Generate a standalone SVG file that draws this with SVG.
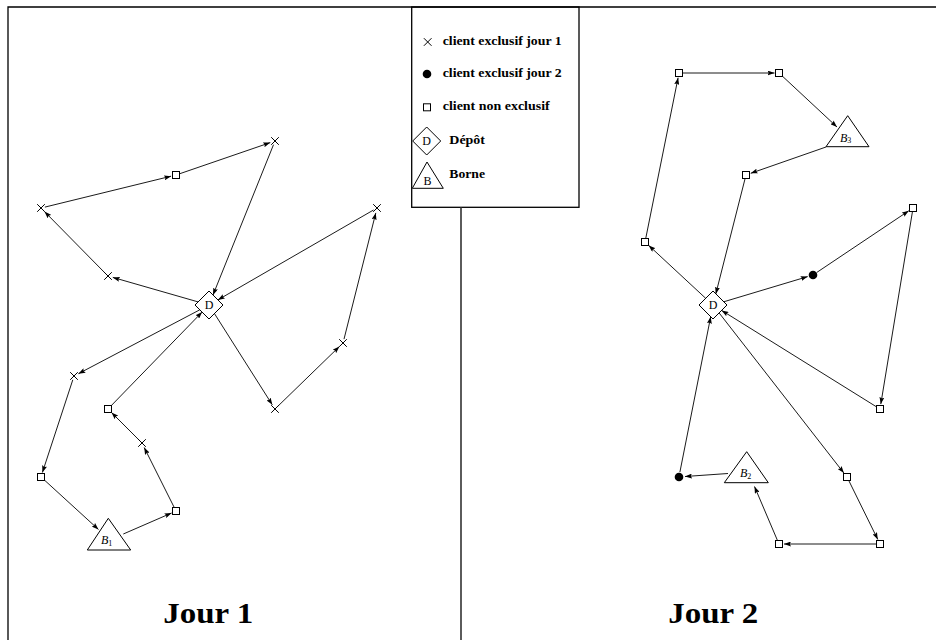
<svg xmlns="http://www.w3.org/2000/svg" xmlns:xlink="http://www.w3.org/1999/xlink" width="936" height="640" viewBox="0 0 936 640">
<style>
.frame{stroke:#000;stroke-width:1.3;fill:none}
.div{stroke:#333;stroke-width:1.6;fill:none}
.edge{stroke:#000;stroke-width:0.9;fill:none;marker-end:url(#ah)}
.cx{stroke:#000;stroke-width:1;fill:none}
.sq{stroke:#000;stroke-width:1;fill:#fff}
.dt{fill:#000;stroke:none}
.shape{stroke:#000;stroke-width:1;fill:#fff}
.lbl{font-family:"Liberation Serif","DejaVu Serif",serif;font-size:12px;fill:#000}
.it{font-style:italic}
.leg{font-family:"Liberation Serif","DejaVu Serif",serif;font-size:11.5px;font-weight:bold;fill:#000}
.title{font-family:"Liberation Serif","DejaVu Serif",serif;font-size:29px;font-weight:bold;fill:#000}
</style>
<defs>
<marker id="ah" markerUnits="userSpaceOnUse" markerWidth="7" markerHeight="5" refX="7" refY="2.5" orient="auto">
<path d="M0,0 L7,2.5 L0,5 L1.2,2.5 Z" fill="#000"/>
</marker>
<path id="cxs" class="cx" d="M-3.8,-3.8 L3.8,3.8 M-3.8,3.8 L3.8,-3.8"/>
<rect id="sqs" class="sq" x="-3.5" y="-3.5" width="7" height="7"/>
<circle id="dts" class="dt" r="4.3"/>
<path id="dms" class="shape" d="M0,-14 L14,0 L0,14 L-14,0 Z"/>
</defs>
<rect width="936" height="640" fill="#fff"/>

<g id="frame">
<path class="frame" d="M8,640 L8,7 L936,7"/>
<rect class="frame" x="411.7" y="7" width="167.3" height="200.3"/>
<path class="div" d="M461,207.3 L461,640"/>
</g>

<g id="legend">
<use href="#cxs" x="427.7" y="42"/>
<text class="leg" x="442.7" y="45" textLength="119" lengthAdjust="spacingAndGlyphs">client exclusif jour 1</text>
<use href="#dts" x="427" y="74"/>
<text class="leg" x="442.7" y="76.5" textLength="119" lengthAdjust="spacingAndGlyphs">client exclusif jour 2</text>
<use href="#sqs" x="427" y="107.3"/>
<text class="leg" x="442.7" y="110.3" textLength="107" lengthAdjust="spacingAndGlyphs">client non exclusif</text>
<use href="#dms" x="426.7" y="141"/>
<text class="lbl" x="426.7" y="145.3" text-anchor="middle">D</text>
<text class="leg" x="449.3" y="143.5" textLength="35.7" lengthAdjust="spacingAndGlyphs">Dépôt</text>
<polygon class="shape" points="427,162 443.3,188.3 412.3,188.3"/>
<text class="lbl" x="427.5" y="185" text-anchor="middle">B</text>
<text class="leg" x="449.3" y="178" textLength="35.7" lengthAdjust="spacingAndGlyphs">Borne</text>
</g>

<g id="connectors">
<!-- Jour 1 -->
<line class="edge" x1="198.1" y1="301.9" x2="112.8" y2="277.4"/>
<line class="edge" x1="105.2" y1="273.2" x2="44.5" y2="211.6"/>
<line class="edge" x1="44.9" y1="207.1" x2="171.1" y2="176.2"/>
<line class="edge" x1="179.8" y1="173.7" x2="270.3" y2="142.6"/>
<line class="edge" x1="273.5" y1="144.7" x2="213.0" y2="295.0"/>
<line class="edge" x1="214.4" y1="313.5" x2="272.3" y2="404.8"/>
<line class="edge" x1="277.9" y1="406.2" x2="339.4" y2="346.5"/>
<line class="edge" x1="344" y1="339.1" x2="375.8" y2="212.9"/>
<line class="edge" x1="373.5" y1="210" x2="217.9" y2="299.9"/>
<line class="edge" x1="199.8" y1="309.8" x2="78.4" y2="373.7"/>
<line class="edge" x1="72.8" y1="379.8" x2="42.4" y2="472.5"/>
<line class="edge" x1="44" y1="479.7" x2="98.5" y2="529.5"/>
<line class="edge" x1="123.3" y1="534" x2="171.6" y2="513"/>
<line class="edge" x1="174.2" y1="507.4" x2="144.2" y2="447.5"/>
<line class="edge" x1="139.2" y1="440.2" x2="111.5" y2="412.5"/>
<line class="edge" x1="110.8" y1="406.1" x2="202.1" y2="312.1"/>
<!-- Jour 2 -->
<line class="edge" x1="705.7" y1="298.3" x2="648.7" y2="245.4"/>
<line class="edge" x1="645.8" y1="238.1" x2="678.1" y2="77.7"/>
<line class="edge" x1="683" y1="73" x2="774.5" y2="73"/>
<line class="edge" x1="781.9" y1="75.7" x2="837" y2="127"/>
<line class="edge" x1="826" y1="147" x2="750.7" y2="173.3"/>
<line class="edge" x1="745" y1="178.9" x2="715.8" y2="293.9"/>
<line class="edge" x1="723.7" y1="301.8" x2="807.7" y2="276.6"/>
<line class="edge" x1="816.7" y1="272.5" x2="908.8" y2="210.8"/>
<line class="edge" x1="912.4" y1="212" x2="880.8" y2="404.1"/>
<line class="edge" x1="876.6" y1="406.9" x2="721.6" y2="310.4"/>
<line class="edge" x1="719.1" y1="312.9" x2="843.9" y2="473.1"/>
<line class="edge" x1="848.8" y1="480.6" x2="877.8" y2="539.5"/>
<line class="edge" x1="876" y1="544" x2="784" y2="544"/>
<line class="edge" x1="777.4" y1="540.3" x2="754.5" y2="486.5"/>
<line class="edge" x1="728" y1="473.5" x2="685" y2="476.5"/>
<line class="edge" x1="679.9" y1="472.1" x2="710.7" y2="316.7"/>
</g>

<!-- Jour 1 nodes -->
<g id="d1"><use href="#dms" x="209" y="305"/><text class="lbl" x="209" y="309.3" text-anchor="middle">D</text></g>
<g id="n1a"><use href="#cxs" x="275" y="141"/></g>
<g id="n1b"><use href="#sqs" x="176" y="175"/></g>
<g id="n1c"><use href="#cxs" x="41" y="208"/></g>
<g id="n1d"><use href="#cxs" x="108" y="276"/></g>
<g id="n1e"><use href="#cxs" x="377" y="208"/></g>
<g id="n1f"><use href="#cxs" x="343" y="343"/></g>
<g id="n1g"><use href="#cxs" x="275" y="409"/></g>
<g id="n1h"><use href="#cxs" x="74" y="376"/></g>
<g id="n1i"><use href="#sqs" x="108" y="409"/></g>
<g id="n1j"><use href="#cxs" x="142" y="443"/></g>
<g id="n1k"><use href="#sqs" x="41" y="477"/></g>
<g id="n1l"><use href="#sqs" x="176" y="511"/></g>
<g id="b1"><polygon class="shape" points="108.3,518.3 130.7,550 87.3,550"/><text class="lbl it" x="101" y="544.3">B<tspan font-size="8" dy="1.8" font-style="normal">1</tspan></text></g>

<!-- Jour 2 nodes -->
<g id="d2"><use href="#dms" x="713" y="305"/><text class="lbl" x="713" y="309.3" text-anchor="middle">D</text></g>
<g id="n2p"><use href="#sqs" x="679" y="73"/></g>
<g id="n2q"><use href="#sqs" x="779" y="73"/></g>
<g id="n2r"><use href="#sqs" x="746" y="175"/></g>
<g id="n2s"><use href="#sqs" x="645" y="242"/></g>
<g id="n2t"><use href="#sqs" x="913" y="208"/></g>
<g id="n2u"><use href="#dts" x="813" y="275"/></g>
<g id="n2v"><use href="#sqs" x="880" y="409"/></g>
<g id="n2w"><use href="#sqs" x="847" y="477"/></g>
<g id="n2x"><use href="#sqs" x="880" y="544"/></g>
<g id="n2y"><use href="#sqs" x="779" y="544"/></g>
<g id="n2z"><use href="#dts" x="679" y="477"/></g>
<g id="b3"><polygon class="shape" points="847.7,115.7 869,146.7 826,146.7"/><text class="lbl it" x="840" y="141.5">B<tspan font-size="8" dy="1.8" font-style="normal">3</tspan></text></g>
<g id="b2"><polygon class="shape" points="746.7,451.7 768.3,482.7 724.3,482.7"/><text class="lbl it" x="740" y="477.3">B<tspan font-size="8" dy="1.8" font-style="normal">2</tspan></text></g>

<g id="titles">
<text class="title" x="163.3" y="623" textLength="90" lengthAdjust="spacingAndGlyphs">Jour 1</text>
<text class="title" x="668.3" y="623" textLength="90" lengthAdjust="spacingAndGlyphs">Jour 2</text>
</g>
</svg>
